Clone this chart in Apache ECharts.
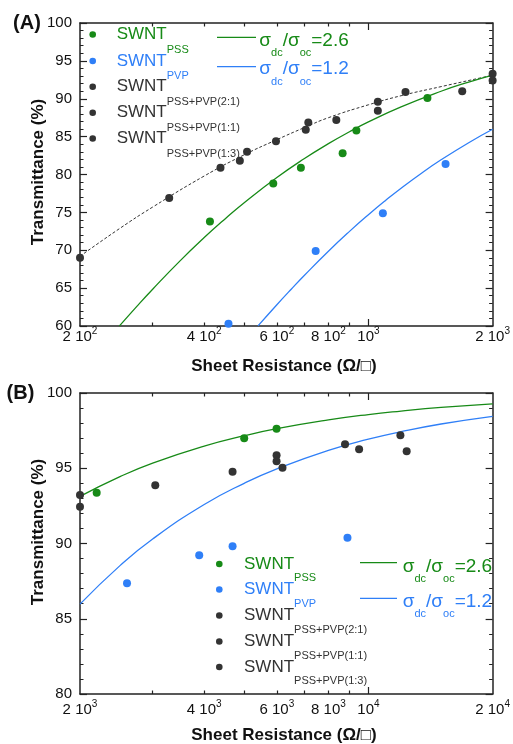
<!DOCTYPE html>
<html><head><meta charset="utf-8">
<script src="https://cdn.jsdelivr.net/npm/echarts@6/dist/echarts.min.js"></script>
<style>html,body{margin:0;padding:0;background:#fff}#c{width:513px;height:744px}</style>
</head><body><div id="c"></div>
<script>
// ---------- Panel A data (Sheet resistance in ohm/sq, transmittance in %) ----------
const aMixR = [200, 329, 438, 488, 508, 597, 705, 715, 836, 1054, 1054, 1230, 1688, 2000, 2000];
const aMixT = [69.0, 76.9, 80.9, 81.8, 83.0, 84.4, 85.9, 86.85, 87.2, 88.4, 89.6, 90.9, 91.0, 93.3, 92.4];
const aPssR = [413, 588, 686, 866, 935, 1390];
const aPssT = [73.8, 78.8, 80.9, 82.8, 85.8, 90.1];
const aPvpR = [458, 745, 1084, 1538];
const aPvpT = [60.3, 69.9, 74.9, 81.4];
// fitted curves
const aFit26R = [249, 275, 300, 350, 400, 450, 500, 600, 700, 800, 900, 1000, 1200, 1500, 1750, 2000];
const aFit26T = [59.98, 62.63, 64.86, 68.63, 71.67, 74.17, 76.28, 79.60, 82.11, 84.07, 85.65, 86.94, 88.93, 90.99, 92.20, 93.13];
const aFit12R = [540, 600, 650, 700, 800, 900, 1000, 1100, 1200, 1350, 1500, 1750, 2000];
const aFit12T = [60.01, 62.81, 64.86, 66.70, 69.87, 72.49, 74.69, 76.57, 78.19, 80.24, 81.94, 84.20, 85.97];
const aMixFitR = [200, 250, 300, 400, 500, 600, 700, 800, 1000, 1200, 1500, 2000];
const aMixFitT = [69.2, 72.9, 75.7, 79.8, 82.6, 84.6, 86.2, 87.5, 89.2, 90.4, 91.6, 93.1];
// ---------- Panel B data ----------
const bMixR = [2000, 2000, 3044, 4686, 5990, 5990, 6191, 8777, 9494, 11954, 12380];
const bMixT = [93.22, 92.45, 93.87, 94.77, 95.86, 95.46, 95.04, 96.59, 96.26, 97.19, 96.13];
const bPssR = [2195, 5000, 5990];
const bPssT = [93.38, 97.0, 97.63];
const bPvpR = [2600, 3890, 4686, 8897];
const bPvpT = [87.36, 89.22, 89.81, 90.39];
const bFit26R = [2000, 2500, 3000, 4000, 5000, 6000, 8000, 10000, 12000, 15000, 20000];
const bFit26T = [93.13, 94.44, 95.34, 96.47, 97.16, 97.63, 98.21, 98.57, 98.80, 99.04, 99.28];
const bFit12R = [2000, 2500, 3000, 4000, 5000, 6000, 8000, 10000, 12000, 15000, 20000];
const bFit12T = [85.97, 88.53, 90.30, 92.59, 94.00, 94.96, 96.19, 96.93, 97.43, 97.94, 98.45];
// ---------- ticks ----------
const aMinorTicks = [300, 400, 500, 600, 700, 800, 900];
const aMajorTicks = [1000];
const aLabelVals = [200, 400, 600, 800, 1000, 2000];
const aLabels = [['2 10', '2'], ['4 10', '2'], ['6 10', '2'], ['8 10', '2'], ['10', '3'], ['2 10', '3']];
const bMinorTicks = [3000, 4000, 5000, 6000, 7000, 8000, 9000];
const bMajorTicks = [10000];
const bLabelVals = [2000, 4000, 6000, 8000, 10000, 20000];
const bLabels = [['2 10', '3'], ['4 10', '3'], ['6 10', '3'], ['8 10', '3'], ['10', '4'], ['2 10', '4']];

const FONT = '"Liberation Sans", Arial, sans-serif';
const GREEN = '#178a17', BLUE = '#2f7ff7', DARK = '#333333', AX = '#222222';
const L = v => Math.log10(v);
const xy = (R, T) => R.map((r, i) => [L(r), T[i]]);

function xAxes(gi, min, max, minor, major, labVals, labs, margin) {
  const base = {type: 'value', gridIndex: gi, min: L(min), max: L(max), splitLine: {show: false}, axisPointer: {show: false}};
  const line = {show: true, onZero: false, lineStyle: {color: AX, width: 1.5}};
  const minorTick = {show: true, inside: true, length: 3.5, customValues: minor.map(L), lineStyle: {color: AX, width: 1.2}};
  const majorTick = {show: true, inside: true, length: 7, customValues: major.map(L), lineStyle: {color: AX, width: 1.2}};
  const label = {
    show: true, customValues: labVals.map(L), margin: margin, color: '#111', fontFamily: FONT,
    formatter: v => {
      let k = 0;
      labVals.forEach((lv, i) => { if (Math.abs(L(lv) - v) < 1e-6) k = i; });
      return '{n|' + labs[k][0] + '}{s|' + labs[k][1] + '}';
    },
    rich: {
      n: {fontSize: 15, lineHeight: 16, fontFamily: FONT, color: '#111'},
      s: {fontSize: 10, lineHeight: 10, padding: [0, 0, 11, 0], fontFamily: FONT, color: '#111'}
    }
  };
  return [
    Object.assign({}, base, {position: 'bottom', axisLine: line, axisTick: minorTick, axisLabel: label}),
    Object.assign({}, base, {position: 'bottom', axisLine: {show: false}, axisTick: majorTick, axisLabel: {show: false}}),
    Object.assign({}, base, {position: 'top', axisLine: line, axisTick: minorTick, axisLabel: {show: false}}),
    Object.assign({}, base, {position: 'top', axisLine: {show: false}, axisTick: majorTick, axisLabel: {show: false}})
  ];
}
function yAxes(gi, min, max) {
  const common = {
    type: 'value', gridIndex: gi, min: min, max: max, interval: 5, splitLine: {show: false}, axisPointer: {show: false},
    axisLine: {show: true, onZero: false, lineStyle: {color: AX, width: 1.5}},
    axisTick: {show: true, inside: true, length: 7, lineStyle: {color: AX, width: 1.2}},
    minorTick: {show: true, splitNumber: 5, length: 3.5, lineStyle: {color: AX, width: 1}}
  };
  return [
    Object.assign({}, common, {position: 'left', axisLabel: {show: true, fontSize: 15, color: '#111', fontFamily: FONT, margin: 8}}),
    Object.assign({}, common, {position: 'right', axisLabel: {show: false}})
  ];
}
function scatter(xi, yi, data, color) {
  return {type: 'scatter', xAxisIndex: xi, yAxisIndex: yi, data: data, symbol: 'circle', symbolSize: 8,
    itemStyle: {color: color, opacity: 1}, z: 5, silent: true};
}
function curve(xi, yi, data, color, dashed) {
  return {type: 'line', xAxisIndex: xi, yAxisIndex: yi, data: data, smooth: true, showSymbol: false, symbol: 'none',
    lineStyle: {color: color, width: dashed ? 1 : 1.3, type: dashed ? [3, 2] : 'solid'}, z: 3, silent: true};
}

// legend helpers
function legendRows(mx, tx, ys, subShift) {
  const rows = [[GREEN, 'PSS'], [BLUE, 'PVP'], [DARK, 'PSS+PVP(2:1)'], [DARK, 'PSS+PVP(1:1)'], [DARK, 'PSS+PVP(1:3)']];
  const els = [];
  rows.forEach((r, i) => {
    els.push({type: 'circle', shape: {cx: mx, cy: ys[i], r: 3.3}, style: {fill: r[0]}, silent: true});
    els.push({type: 'text', x: tx, y: ys[i], silent: true, style: {
      text: '{m|SWNT}{s|' + r[1] + '}', align: 'left', verticalAlign: 'middle', textAlign: 'left', textVerticalAlign: 'middle',
      rich: {
        m: {fontSize: 17, lineHeight: 20, fontFamily: FONT, fill: r[0], color: r[0]},
        s: {fontSize: 11, lineHeight: 12, padding: [subShift * 2, 0, 0, 0], fontFamily: FONT, fill: r[0], color: r[0]}
      }
    }});
  });
  return els;
}
function sigmaRows(x1, x2, lys, tx, tys, vals, subShift) {
  const cols = [GREEN, BLUE];
  const els = [];
  vals.forEach((v, i) => {
    els.push({type: 'line', shape: {x1: x1, y1: lys[i], x2: x2, y2: lys[i]}, style: {stroke: cols[i], lineWidth: 1.2}, silent: true});
    const m = {fontSize: 19, lineHeight: 22, fontFamily: FONT, fill: cols[i], color: cols[i]};
    const s = {fontSize: 11, lineHeight: 12, padding: [subShift * 2, 0, 0, 0], fontFamily: FONT, fill: cols[i], color: cols[i]};
    els.push({type: 'text', x: tx, y: tys[i], silent: true, style: {
      text: '{m|σ}{s|dc}{m|/σ}{s|oc}{m|=' + v + '}', align: 'left', verticalAlign: 'middle', textAlign: 'left', textVerticalAlign: 'middle',
      rich: {m: m, s: s}
    }});
  });
  return els;
}
function title(text, x, y, rot, size) {
  return {type: 'text', x: x, y: y, rotation: rot, silent: true, style: {
    text: text, font: 'bold ' + size + 'px ' + FONT, fill: '#111', align: 'center', verticalAlign: 'middle',
    textAlign: 'center', textVerticalAlign: 'middle'}};
}

const chart = echarts.init(document.getElementById('c'), null, {renderer: 'canvas'});
const option = {
  animation: false,
  backgroundColor: '#fff',
  grid: [
    {left: 80, top: 23, width: 416, height: 303},
    {left: 80, top: 393, width: 413, height: 301}
  ],
  xAxis: [].concat(
    xAxes(0, 200, 2000, aMinorTicks, aMajorTicks, aLabelVals, aLabels, 2.5),
    xAxes(1, 2000, 20000, bMinorTicks, bMajorTicks, bLabelVals, bLabels, 8)
  ),
  yAxis: [].concat(yAxes(0, 60, 100), yAxes(1, 80, 100)),
  series: [
    curve(0, 0, xy(aMixFitR, aMixFitT), DARK, true),
    curve(0, 0, xy(aFit26R, aFit26T), GREEN, false),
    curve(0, 0, xy(aFit12R, aFit12T), BLUE, false),
    scatter(0, 0, xy(aMixR, aMixT), DARK),
    scatter(0, 0, xy(aPssR, aPssT), GREEN),
    scatter(0, 0, xy(aPvpR, aPvpT), BLUE),
    curve(4, 2, xy(bFit26R, bFit26T), GREEN, false),
    curve(4, 2, xy(bFit12R, bFit12T), BLUE, false),
    scatter(4, 2, xy(bMixR, bMixT), DARK),
    scatter(4, 2, xy(bPssR, bPssT), GREEN),
    scatter(4, 2, xy(bPvpR, bPvpT), BLUE)
  ],
  graphic: {elements: [].concat(
    legendRows(92.7, 116.7, [34.5, 61, 86.7, 112.7, 138.5], 15),
    sigmaRows(217, 256, [37.3, 66.7], 259.3, [40.3, 69], ['2.6', '1.2'], 13),
    legendRows(219.3, 244, [564, 589.5, 615.5, 641.5, 667], 14),
    sigmaRows(360, 397, [562.7, 598.3], 402.7, [566.7, 601.7], ['2.6', '1.2'], 12),
    [
      title('(A)', 27, 23.5, 0, 20),
      title('(B)', 20.5, 393.5, 0, 20),
      title('Transmittance (%)', 38, 172, Math.PI / 2, 17),
      title('Transmittance (%)', 38, 532, Math.PI / 2, 17),
      title('Sheet Resistance (Ω/□)', 284, 366, 0, 17),
      title('Sheet Resistance (Ω/□)', 284, 735, 0, 17)
    ]
  )}
};
chart.setOption(option);
</script></body></html>
